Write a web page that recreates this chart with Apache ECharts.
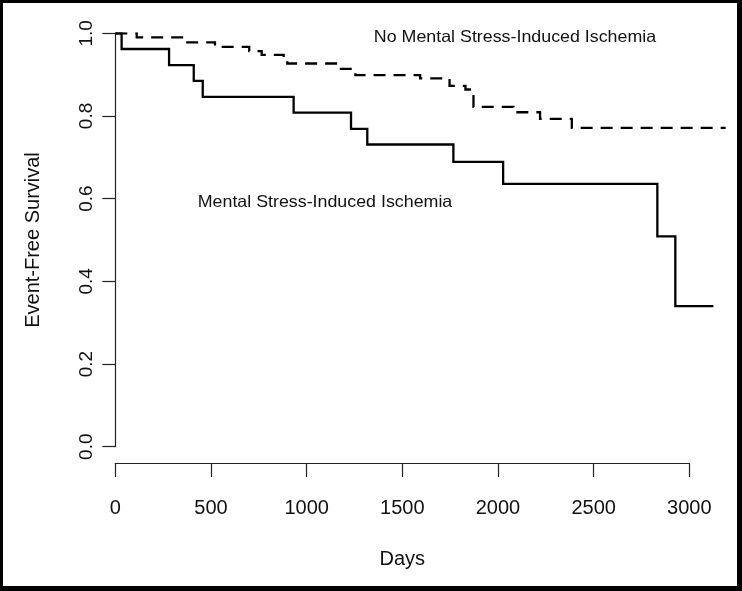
<!DOCTYPE html>
<html>
<head>
<meta charset="utf-8">
<script src="https://cdn.jsdelivr.net/npm/echarts@6/dist/echarts.min.js"></script>
<style>
  html, body { margin: 0; padding: 0; background: #fff; }
  #chart { width: 742px; height: 591px; }
</style>
</head>
<body>
<div id="chart"></div>
<script>
// ---- data ----
const msiDays  = [0, 33, 281, 410, 457, 932, 1232, 1317, 1767, 2027, 2833, 2927, 3126];
const msiSurv  = [1.0, 0.962, 0.923, 0.885, 0.846, 0.808, 0.769, 0.731, 0.689, 0.636, 0.509, 0.340, 0.340];

const noMsiDays = [0, 112, 362, 521, 700, 765, 880, 899, 1170, 1255, 1593, 1747, 1830, 1872, 2081, 2220, 2386, 3190];
const noMsiSurv = [1.0, 0.990, 0.978, 0.967, 0.957, 0.948, 0.938, 0.927, 0.914, 0.899, 0.891, 0.873, 0.864, 0.822, 0.809, 0.793, 0.771, 0.771];

const xTicks = [0, 500, 1000, 1500, 2000, 2500, 3000];
const yTicks = [0.0, 0.2, 0.4, 0.6, 0.8, 1.0];

const labelMsi = 'Mental Stress-Induced Ischemia';
const labelNoMsi = 'No Mental Stress-Induced Ischemia';

// ---- chart ----
const FONT = "'Liberation Sans', Arial, Helvetica, sans-serif";
const pxPerDay = 574 / 3000;
const gLeft = 115.3, gTop = 33.3, gHeight = 413.4;
const xMaxData = 3200;

const chart = echarts.init(document.getElementById('chart'), null, { renderer: 'canvas' });

const option = {
  animation: false,
  backgroundColor: '#fff',
  grid: [
    { left: gLeft, top: gTop, width: xMaxData * pxPerDay, height: gHeight, containLabel: false },
    { left: gLeft, top: 462, width: 3000 * pxPerDay, height: 1, containLabel: false }
  ],
  xAxis: [
    { gridIndex: 0, type: 'value', min: 0, max: xMaxData, show: false },
    {
      gridIndex: 1, type: 'value', min: xTicks[0], max: xTicks[xTicks.length - 1], interval: 500,
      position: 'bottom',
      axisLine: { show: true, lineStyle: { color: '#222', width: 1.2 } },
      axisTick: { show: true, length: 14, lineStyle: { color: '#222', width: 1.2 } },
      splitLine: { show: false },
      axisLabel: { color: '#111', fontFamily: FONT, fontSize: 20, margin: 35,
                   formatter: v => String(v) },
      name: 'Days', nameLocation: 'middle', nameGap: 86,
      nameTextStyle: { color: '#111', fontFamily: FONT, fontSize: 20 }
    }
  ],
  yAxis: [
    {
      gridIndex: 0, type: 'value', min: yTicks[0], max: yTicks[yTicks.length - 1], interval: 0.2,
      axisLine: { show: true, lineStyle: { color: '#222', width: 1.2 } },
      axisTick: { show: true, length: 13, lineStyle: { color: '#222', width: 1.2 } },
      splitLine: { show: false },
      axisLabel: { color: '#111', fontFamily: FONT, fontSize: 19, rotate: 90, margin: 19,
                   formatter: v => v.toFixed(1) },
      name: 'Event-Free Survival', nameLocation: 'middle', nameGap: 72, nameRotate: 90,
      nameTextStyle: { color: '#111', fontFamily: FONT, fontSize: 20 }
    },
    { gridIndex: 1, type: 'value', show: false, min: 0, max: 1 }
  ],
  series: [
    {
      name: labelMsi, type: 'line', xAxisIndex: 0, yAxisIndex: 0,
      step: 'end', showSymbol: false, symbol: 'none',
      lineStyle: { color: '#000', width: 2.3, cap: 'butt', join: 'miter' },
      data: msiDays.map((d, i) => [d, msiSurv[i]])
    },
    {
      name: labelNoMsi, type: 'line', xAxisIndex: 0, yAxisIndex: 0,
      step: 'end', showSymbol: false, symbol: 'none',
      lineStyle: { color: '#000', width: 2.3, type: [12, 8], cap: 'butt', join: 'miter' },
      data: noMsiDays.map((d, i) => [d, noMsiSurv[i]])
    }
  ],
  graphic: [
    { type: 'text', x: 515, y: 37, scaleX: 1.08,
      style: { text: labelNoMsi, fill: '#111', font: '16.5px ' + FONT, textAlign: 'center', textVerticalAlign: 'middle' } },
    { type: 'text', x: 325, y: 202, scaleX: 1.08,
      style: { text: labelMsi, fill: '#111', font: '16.5px ' + FONT, textAlign: 'center', textVerticalAlign: 'middle' } },
    // outer black frame
    { type: 'rect', shape: { x: 0, y: 0, width: 742, height: 3 }, style: { fill: '#000' } },
    { type: 'rect', shape: { x: 0, y: 0, width: 3, height: 591 }, style: { fill: '#000' } },
    { type: 'rect', shape: { x: 737, y: 0, width: 5, height: 591 }, style: { fill: '#000' } },
    { type: 'rect', shape: { x: 0, y: 586, width: 742, height: 5 }, style: { fill: '#000' } }
  ]
};

chart.setOption(option);
</script>
</body>
</html>
